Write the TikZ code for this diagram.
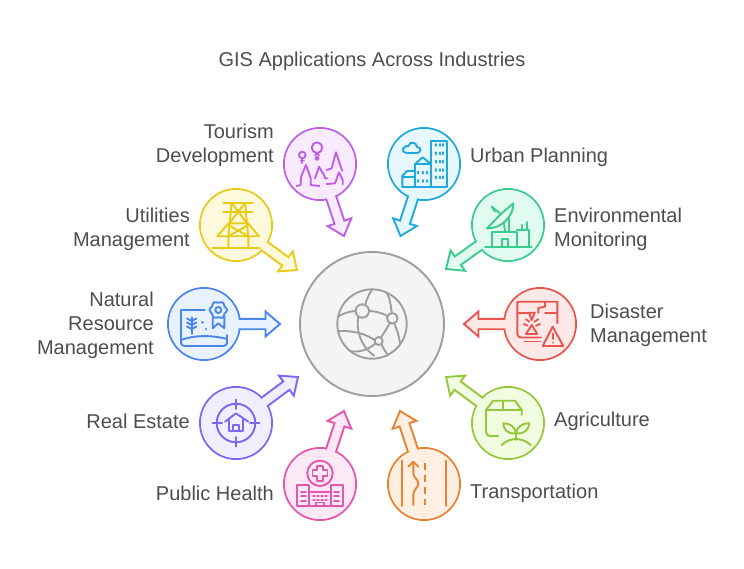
\documentclass[tikz,border=0pt]{standalone}
\usepackage{fontspec}
\setmainfont{Liberation Sans}
\usetikzlibrary{calc}

\definecolor{textgrey}{HTML}{4D4D4D}
\definecolor{hubline}{HTML}{9E9E9E}
\definecolor{hubfill}{HTML}{F4F4F4}
\definecolor{tourismline}{HTML}{BF5FE8}
\definecolor{tourismfill}{HTML}{F9EBFF}
\definecolor{urbanline}{HTML}{21A9DC}
\definecolor{urbanfill}{HTML}{E6F7FE}
\definecolor{enviroline}{HTML}{3CCB8E}
\definecolor{envirofill}{HTML}{E2FBF0}
\definecolor{disasterline}{HTML}{E8554E}
\definecolor{disasterfill}{HTML}{FDE8E8}
\definecolor{agriline}{HTML}{93C83C}
\definecolor{agrifill}{HTML}{F1FCE0}
\definecolor{transportline}{HTML}{E5842F}
\definecolor{transportfill}{HTML}{FEEFE2}
\definecolor{healthline}{HTML}{E556AE}
\definecolor{healthfill}{HTML}{FDE9F6}
\definecolor{estateline}{HTML}{7D66F0}
\definecolor{estatefill}{HTML}{F1EEFF}
\definecolor{naturalline}{HTML}{4A86E8}
\definecolor{naturalfill}{HTML}{E8F1FE}
\definecolor{utilline}{HTML}{E8CB17}
\definecolor{utilfill}{HTML}{FEF9DC}

\tikzset{
	bubble/.style={circle, inner sep=0, outer sep=0, minimum size=72pt, line width=1.9pt},
	arrowline/.style={line width=1.9pt, line join=miter},
	iconline/.style={line width=1.9pt, line cap=round, line join=round},
	labeltext/.style={text=textgrey, font=\fontsize{20}{24}\selectfont, inner sep=0},
	labelleft/.style={labeltext, align=right, anchor=east},
	labelright/.style={labeltext, align=left, anchor=west}
}

% circle with its block arrow: name, centre, tip
\newcommand{\spoke}[3]{
	\node[bubble, draw=#1line, fill=#1fill] (#1) at (#2) {};
	\coordinate (#1tip) at (#3);
	\coordinate (#1neck) at ($(#1tip)!14.5pt!(#1)$);
	\draw[arrowline, draw=#1line, fill=#1fill]
		($(#1)!5.2pt!90:(#1tip)$) -- ($(#1neck)!5.2pt!90:(#1tip)$)
		-- ($(#1neck)!12.5pt!90:(#1tip)$) -- (#1tip)
		-- ($(#1neck)!12.5pt!-90:(#1tip)$) -- ($(#1neck)!5.2pt!-90:(#1tip)$)
		-- ($(#1)!5.2pt!-90:(#1tip)$) -- cycle;
	\fill[#1fill] (#1) circle[radius=35];
}

\begin{document}
\begin{tikzpicture}[x=1pt, y=-1pt]
	\useasboundingbox (0, 0) rectangle (744, 568);

	\node[labeltext] (title) at (372, 61.5) {GIS Applications Across Industries};

	\spoke{tourism}{320, 164}{344, 236}
	\spoke{urban}{424, 164}{400.5, 236}
	\spoke{enviro}{508, 225}{446, 269}
	\spoke{disaster}{540, 324}{464, 324}
	\spoke{agri}{508, 423}{446, 377}
	\spoke{transport}{424, 484}{400, 411}
	\spoke{health}{320, 484}{344, 411}
	\spoke{estate}{236, 423}{298, 377}
	\spoke{natural}{204, 324}{280, 324}
	\spoke{util}{236, 225}{297, 270}

	\node[bubble, draw=hubline, fill=hubfill, minimum size=144pt] (hub) at (372, 324) {};

	\node[labelleft] (tourismlabel) at (274, 145.5) {Tourism\\Development};
	\node[labelleft] (utillabel) at (190, 229.5) {Utilities\\Management};
	\node[labelleft] (naturallabel) at (154, 325.5) {Natural\\Resource\\Management};
	\node[labelleft] (estatelabel) at (190, 421) {Real Estate};
	\node[labelleft] (healthlabel) at (274, 493) {Public Health};
	\node[labelright] (urbanlabel) at (470, 157.5) {Urban Planning};
	\node[labelright] (envirolabel) at (554, 229.5) {Environmental\\Monitoring};
	\node[labelright] (disasterlabel) at (590, 325.5) {Disaster\\Management};
	\node[labelright] (agrilabel) at (554, 421.5) {Agriculture};
	\node[labelright] (transportlabel) at (470, 493.5) {Transportation};

	% globe
	\begin{scope}[shift={(hub)}, iconline, draw=hubline]
		\draw (0, 0) circle[radius=34.7];
		\draw (-9.7, -13) circle[radius=6.7];
		\draw (20.3, -5.7) circle[radius=5.3];
		\draw (6.7, 17) circle[radius=4];
		\draw (-16.3, -13) .. controls (-24, -12.5) and (-30, -10) .. (-34, -7.3);
		\draw (-3, -13) .. controls (3, -13) and (10, -11) .. (15, -8.3);
		\draw (-7, -19) .. controls (-5, -25) and (-3, -30) .. (0, -34.7);
		\draw (-13.7, -7) .. controls (-16, 5) and (-12, 22) .. (2, 31.5);
		\draw (19.7, -10.7) .. controls (19, -20) and (17, -28) .. (14.7, -31);
		\draw (22.3, -0.7) .. controls (25, 6) and (27, 12) .. (28, 19);
		\draw (18, -1.2) .. controls (15, 4) and (12, 9) .. (9, 13.5);
		\draw (2.7, 16) .. controls (-8, 9) and (-20, 6.5) .. (-34, 7);
		\draw (3.5, 19.5) .. controls (-3, 25) and (-12, 29) .. (-22, 27);
		\draw (9.7, 20.5) .. controls (11, 24) and (13, 27) .. (15, 30);
	\end{scope}

	% tourism
	\begin{scope}[shift={(tourism)}, iconline, draw=tourismline]
		\draw (-17.7, -9) circle[radius=3.3];
		\draw (-17.7, -5.7) -- (-17.7, -1) (-19.5, -3.5) -- (-16, -3.5);
		\draw (-3, -16.3) circle[radius=5.3];
		\draw (-3, -5.7) circle[radius=1.7];
		\draw (-3, -11) -- (-5, -8.5) (-3, -11) -- (-1, -8.5);
		\draw (-23.3, 22) -- (-19.3, 21) -- (-19, 12.7) -- (-14, 1) -- (-9.3, 14.3) -- (-9.3, 21) -- (-0.7, 22);
		\draw (-5, 14.3) -- (-1, 2.7) -- (4, 11) -- (5, 14.3) -- (7.3, 14.3);
		\draw (6.7, 6) -- (11.7, 4.3) -- (16, -11.7) -- (20.7, 2.7) -- (22.3, 6.7);
		\draw (6.7, 20) -- (15, 19.3) -- (19, 8.3) -- (22.7, 16) -- (22.7, 20.3);
	\end{scope}

	% urban
	\begin{scope}[shift={(urban)}, iconline, draw=urbanline]
		\draw (6.7, -23) rectangle (23.3, 22.7);
		\foreach \y in {-19, -10.7, -2.3, 6, 13.3}
			\foreach \x in {11.7, 15.6, 19.3}
				\draw (\x, \y - 1) -- (\x, \y + 1);
		\draw (-21.7, 22.7) -- (6.7, 22.7);
		\draw (-9, 22.7) -- (-9, 0) -- (-1.3, -6.7) -- (6.7, 0);
		\draw (-9, 0) -- (6, 0);
		\foreach \y in {8.7, 17}
			\foreach \x in {-5.7, -1.3, 3.3}
				\draw (\x, \y - 1) -- (\x, \y + 1);
		\draw (-21.7, 22.7) -- (-21.7, 12) -- (-17, 7) -- (-9, 7);
		\draw (-21.7, 13.3) -- (-9, 13.3);
		\draw (-17, -11) -- (-7, -11) .. controls (-3, -11) and (-2, -17) .. (-7, -17)
			.. controls (-7, -21) and (-14, -24) .. (-15.5, -18)
			.. controls (-20, -19) and (-25, -12) .. (-17, -11);
	\end{scope}

	% environmental
	\begin{scope}[shift={(enviro)}, iconline, draw=enviroline]
		\draw (-21, 3.3) -- (-7, -11) -- (5.3, -21.7) .. controls (6, -10) and (-6, 4) .. (-21, 3.3);
		\draw (-16.3, -18.3) -- (-8, -11.7);
		\draw (-16.3, -18.3) -- (-13, -13.5);
		\draw (-4, -2) -- (-3, 6.7) (1, -6) -- (1, 6.7);
		\draw (-23, 22.3) -- (23.7, 22.3);
		\draw (-15.7, 22.3) -- (-15.7, 6.7) -- (8.7, 6.7) -- (8.7, 22.3);
		\draw (-6.3, 22.3) -- (-6.3, 14.3) -- (0.3, 14.3) -- (0.3, 22.3);
		\draw (8.7, 5) -- (21.3, 5) -- (21.3, 22.3);
		\draw (14.3, 0) -- (14.3, 5) (18.7, -3) -- (18.7, 5);
	\end{scope}

	% disaster
	\begin{scope}[shift={(disaster)}, iconline, draw=disasterline]
		\draw (17.3, -1) -- (17.3, -22.3) -- (-22.7, -22.3) -- (-22.7, 10)
			.. controls (-22.7, 12) and (-21, 13.5) .. (-19, 13.5) -- (1, 13.5);
		\draw (-15.5, 17.5) -- (0, 17.5);
		\draw (5, -22.3) -- (5, -17.3) -- (-1.7, -16) -- (-1.7, -11.3);
		\draw (-22.7, -11.3) -- (-11, -11.3) (5, -11.3) -- (17.3, -11.3);
		\draw (-11, -11.3) -- (-5.3, -11.3) -- (-8.3, -4) -- cycle;
		\draw (-8.3, 1) -- (-14, 10) -- (-2.7, 10) -- cycle;
		\draw (-16, 0) -- (-12.7, 1.7) (-14, -4.7) -- (-10.7, -2.3);
		\draw (0, 0) -- (-4, 1.7) (-1.7, -4.7) -- (-5.7, -2.3);
		\draw[fill=disasterfill] (12.7, 2.7) -- (2.7, 22) -- (23.3, 22) -- cycle;
		\draw (12.7, 9.5) -- (12.7, 15) (12.7, 18.5) -- (12.7, 18.6);
	\end{scope}

	% agriculture
	\begin{scope}[shift={(agri)}, iconline, draw=agriline]
		\draw (-9.7, 13) -- (-18, 13) .. controls (-20, 13) and (-22, 11) .. (-22, 9) -- (-22, -13) -- (-14.7, -22.3) -- (7, -22.3) -- (13.7, -13) -- (13.7, -8);
		\draw (-22, -13) -- (13.7, -13);
		\draw (-4.7, -22.3) -- (-4.7, -13);
		\draw (8, 17) -- (8, 8);
		\draw (8, 10) .. controls (0, 12) and (-5, 6) .. (-4.7, 0.3) .. controls (2, 0) and (7, 4) .. (8, 10);
		\draw (8, 10) .. controls (16, 12) and (21, 6) .. (21.3, 0.3) .. controls (14, 0) and (9, 4) .. (8, 10);
		\draw (-6.3, 22) .. controls (-2, 18) and (3, 16) .. (8, 16) .. controls (13, 16) and (18, 18) .. (22.7, 22);
	\end{scope}

	% transportation
	\begin{scope}[shift={(transport)}, iconline, draw=transportline]
		\draw (-22, -23.3) -- (-22, 22) (22, -23.3) -- (22, 22);
		\draw[line cap=butt, dash pattern=on 7pt off 5pt] (1, -21) -- (1, 21);
		\draw (-10.7, 21) -- (-10.7, 11) .. controls (-10.7, 5) and (-5.7, 4) .. (-5.7, -0.7)
			.. controls (-5.7, -5) and (-10.7, -6) .. (-10.7, -10.7) -- (-10.7, -22);
		\draw (-15.7, -17.3) -- (-10.7, -22.3) -- (-5.7, -17.3);
	\end{scope}

	% public health
	\begin{scope}[shift={(health)}, iconline, draw=healthline]
		\draw (0, -10.7) circle[radius=12.7];
		\draw (-3, -18.2) -- (3, -18.2) -- (3, -13.7) -- (7.5, -13.7) -- (7.5, -7.7) -- (3, -7.7) -- (3, -3.2)
			-- (-3, -3.2) -- (-3, -7.7) -- (-7.5, -7.7) -- (-7.5, -13.7) -- (-3, -13.7) -- cycle;
		\draw (-23.3, 1) rectangle (-10.7, 22);
		\draw (10.7, 1) rectangle (23.3, 22);
		\draw (-10.7, 7.7) -- (10.7, 7.7) (-10.7, 22) -- (10.7, 22);
		\foreach \y in {7.7, 12, 16.7}
			\draw (-19, \y) -- (-14, \y) (14, \y) -- (19, \y);
		\foreach \y in {11.7, 15.7}
			\foreach \x in {-6, -2, 2, 6}
				\draw (\x - 0.8, \y) -- (\x + 0.8, \y);
		\draw (-4, 22) -- (-4, 18.5) -- (4, 18.5) -- (4, 22);
	\end{scope}

	% real estate
	\begin{scope}[shift={(estate)}, iconline, draw=estateline]
		\draw (0, 0) circle[radius=19.3];
		\draw (-23.5, 0) -- (-14, 0) (14, 0) -- (23.5, 0);
		\draw (0, -23.5) -- (0, -14) (0, 14) -- (0, 23.5);
		\draw (-11, -1.3) -- (0, -9.7) -- (12.3, -1.3);
		\draw (-6.7, -4) -- (-6.7, 7.7) -- (6.7, 7.7) -- (6.7, -4);
		\draw (-2.7, 7.7) -- (-2.7, 2) -- (3.3, 2) -- (3.3, 7.7);
	\end{scope}

	% natural resource
	\begin{scope}[shift={(natural)}, iconline, draw=naturalline]
		\draw (1, -14) -- (-23, -14) -- (-23, 19) .. controls (-23, 21) and (-21, 22) .. (-19, 22) -- (19, 22)
			.. controls (21, 22) and (23, 21) .. (23, 19) -- (23, 11);
		\draw (-23, 16) .. controls (-10, 11) and (8, 11) .. (23, 15);
		\draw (-12.3, -6.7) -- (-12.3, 10);
		\foreach \y in {-3, 1, 5}
			\draw (-17, \y - 2.5) -- (-12.3, \y) -- (-7.6, \y - 2.5);
		\draw[line width=2.6pt] (-1.7, -1.7) -- (-1.7, -1.6) (2, 5) -- (2, 5.1);
		\draw (8.7, -9) -- (8.7, 4.3) -- (14.3, -0.7) -- (20.3, 4.3) -- (20.3, -9);
		\draw[shift={(14.3, -14)}, fill=naturalfill] plot[smooth cycle, domain=0:345, samples=24] (\x:{8 + 0.8*cos(6*\x)});
		\draw (14.3, -14) circle[radius=3];
	\end{scope}

	% utilities
	\begin{scope}[shift={(util)}, iconline, draw=utilline]
		\draw (-12.7, -22.3) -- (16.7, -22.3) (-12.7, -13.3) -- (16.7, -13.3);
		\draw (-4.3, -22.3) -- (-7.7, 11.7) -- (-7.7, 23.3);
		\draw (9, -22.3) -- (12.3, 11.7) -- (12.3, 23.3);
		\draw (-4.3, -22.3) -- (10, -3) (9, -22.3) -- (-5.5, -3);
		\draw (-18.7, 11.2) -- (23, 11.2) -- (12, -1.7) -- (-7.5, -1.7) -- cycle;
		\draw (-7.7, 0) -- (12.3, 11.2) (12.3, 0) -- (-7.7, 11.2);
		\draw (-23.7, 23.3) -- (24, 23.3);
	\end{scope}
\end{tikzpicture}
\end{document}
